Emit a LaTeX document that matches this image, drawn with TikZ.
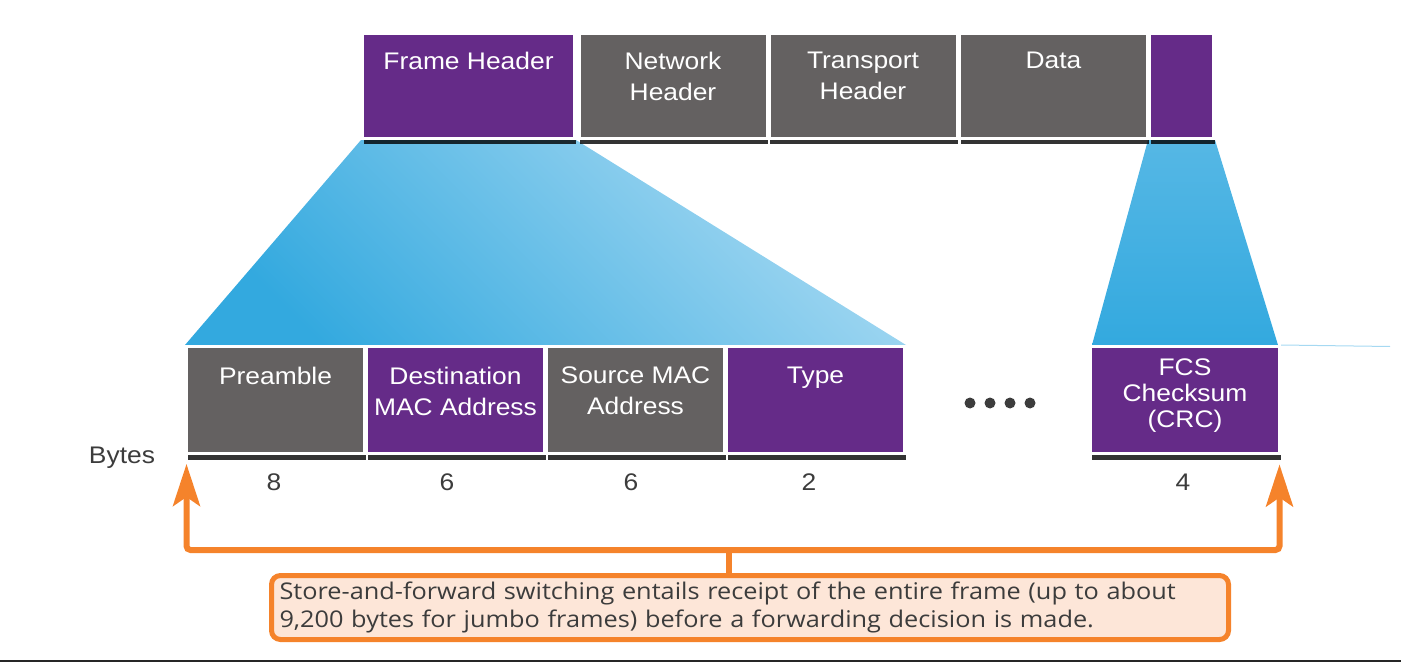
\documentclass[tikz,border=0pt]{standalone}
\usepackage{fontspec}
\setmainfont{Liberation Sans}[FakeStretch=1.1]
\newfontfamily\notefont{Open Sans}[FakeStretch=1.1]
\usepackage{tikz}
\usetikzlibrary{shadows}
\usetikzlibrary{arrows.meta}
\usetikzlibrary{backgrounds}

\definecolor{fpurple}{HTML}{652B88}
\definecolor{fgray}{HTML}{646161}
\definecolor{bluedark}{HTML}{33A9DF}
\definecolor{bluelight}{HTML}{A6D9F2}
\definecolor{forange}{HTML}{F5832B}
\definecolor{notefill}{HTML}{FDE6D8}
\definecolor{txtgray}{HTML}{3C3C3C}

\begin{document}
\begin{tikzpicture}[x=1pt,y=-1pt,
  fld/.style={draw=white,line width=3pt,inner sep=0,
    drop shadow={shadow xshift=1pt,shadow yshift=-6pt,opacity=.8,fill=black}},
  lbl/.style={text=white,font=\fontsize{24}{31}\selectfont,align=center,anchor=north,inner sep=0},
  num/.style={text=txtgray,font=\fontsize{24}{28}\selectfont,anchor=base,inner sep=0},
  dot/.style={circle,fill=txtgray,inner sep=0,minimum size=11},
  bracket/.style={forange,line width=6pt},
  ftip/.tip={Stealth[length=42pt,width=27pt,inset=9pt]}]
\useasboundingbox (0,0) rectangle (1401,663);

% frame
\node[fld,fill=fpurple,minimum width=212,minimum height=105] (h1) at (468.5,86) {};
\node[fld,fill=fgray,minimum width=188,minimum height=105] (h2) at (673,86) {};
\node[fld,fill=fgray,minimum width=188,minimum height=105] (h3) at (863,86) {};
\node[fld,fill=fgray,minimum width=188,minimum height=105] (h4) at (1053.5,86) {};
\node[fld,fill=fpurple,minimum width=64,minimum height=105] (h5) at (1181.5,86) {};

% header fields
\node[fld,fill=fgray,minimum width=178,minimum height=107] (f1) at (275.5,400) {};
\node[fld,fill=fpurple,minimum width=178,minimum height=107] (f2) at (455.5,400) {};
\node[fld,fill=fgray,minimum width=178,minimum height=107] (f3) at (635.5,400) {};
\node[fld,fill=fpurple,minimum width=178,minimum height=107] (f4) at (815.5,400) {};
\node[fld,fill=fpurple,minimum width=189,minimum height=107] (f5) at (1185,400) {};

% zoom wedges
\begin{pgfonlayer}{background}
\shade[top color=bluelight,bottom color=bluedark,shading angle=-45]
  (h1.south west) -- (h1.south east) -- (f4.north east) -- (f1.north west) -- cycle;
\shade[top color=bluedark!70!bluelight,bottom color=bluedark]
  (h5.south west) -- (h5.south east) -- ([xshift=-3pt]f5.north east) -- ([xshift=3pt]f5.north west) -- cycle;
\end{pgfonlayer}
\coordinate (tail) at (1390,346.5);
\draw[bluelight,line width=1pt] (f5.north east) -- (tail);

\node[lbl] (t1) at ([yshift=-19.5]h1.north) {Frame Header};
\node[lbl] (t2) at ([yshift=-19.5]h2.north) {Network\\Header};
\node[lbl] (t3) at ([yshift=-19.5]h3.north) {Transport\\Header};
\node[lbl] (t4) at ([yshift=-19.5]h4.north) {Data};
\node[lbl] (u1) at ([yshift=-22]f1.north) {Preamble};
\node[lbl] (u2) at ([yshift=-22]f2.north) {Destination\\MAC Address};
\node[lbl] (u3) at ([yshift=-22]f3.north) {Source MAC\\Address};
\node[lbl] (u4) at ([yshift=-22]f4.north) {Type};
\node[lbl,font=\fontsize{24}{26}\selectfont] (u5) at ([yshift=-14]f5.north) {FCS\\Checksum\\(CRC)};

\foreach \i in {0,...,3}
  \node[dot] (d\i) at (970+20*\i,403) {};

\node[num] (bytes) at (122,463) {Bytes};
\node[num] (n1) at (274,490) {8};
\node[num] (n2) at (447,490) {6};
\node[num] (n3) at (631,490) {6};
\node[num] (n4) at (809,490) {2};
\node[num] (n5) at (1183,490) {4};

% store-and-forward
\node[draw=forange,line width=5pt,fill=notefill,rounded corners=9pt,
  minimum width=957,minimum height=64,text width=941,inner xsep=8,align=left,
  text=txtgray,font=\notefont\fontsize{23}{28.5}\selectfont] (note) at (750,607.5)
  {Store-and-forward switching entails receipt of the entire frame (up to about\\9,200 bytes for jumbo frames) before a forwarding decision is made.};
\coordinate (stem) at (729,550);
\coordinate (ltip) at ([shift={(1.5,9)}]f1.south west);
\coordinate (rtip) at ([shift={(-1.5,9.5)}]f5.south east);
\draw[bracket,rounded corners=4pt,ftip-ftip] (ltip) |- (stem) -| (rtip);
\draw[bracket] (note.north -| stem) -- (stem);

\coordinate (rl) at (0,661);
\coordinate (rr) at (1401,661);
\draw[line width=2pt,black!85] (rl) -- (rr);
\end{tikzpicture}
\end{document}
